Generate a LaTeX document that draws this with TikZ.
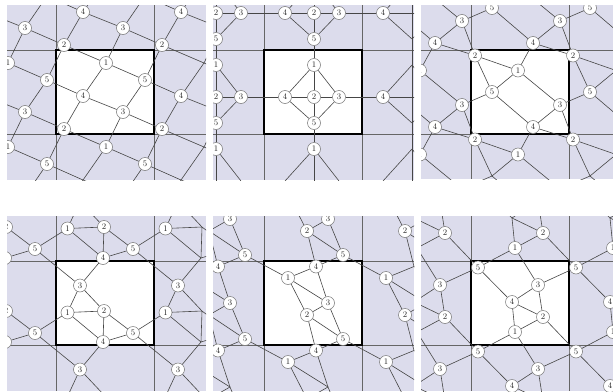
\documentclass[tikz,border=0pt]{standalone}
\usepackage{tikz}
\definecolor{bgc}{RGB}{220,220,236}
\definecolor{edgec}{RGB}{70,70,70}
\tikzset{
 vtx/.style={circle, draw=black!55, fill=white, line width=0.5pt, minimum size=13pt, inner sep=0pt, font=\fontsize{8.5}{8.5}\selectfont, text=black!85},
 edge/.style={draw=edgec, line width=0.6pt},
 gridln/.style={draw=black!60, line width=0.7pt},
 domainbox/.style={draw=black, line width=1.5pt},
}
% #1 ox, #2 oy, #3 x0, #4 x1, #5 y0, #6 y1
\newcommand\myframe[6]{%
  \pgfmathsetmacro\vxa{#3-3}\pgfmathsetmacro\vxb{#4-5}%
  \pgfmathsetmacro\vya{#5+2.5}\pgfmathsetmacro\vyb{#6-4.5}%
  \clip (#3,#5) rectangle (#4,#6);
  \fill[bgc] (#3,#5) rectangle (#4,#6);
  \fill[white] (#1,#2) rectangle ++(98,84);
  \draw[gridln] (#1,#5) -- (#1,#6);
  \draw[gridln] ({#1+98},#5) -- ({#1+98},#6);
  \draw[gridln] (#3,#2) -- (#4,#2);
  \draw[gridln] (#3,{#2+84}) -- (#4,{#2+84});
  \draw[domainbox] (#1,#2) rectangle ++(98,84);
}
% #1 prefix, #2 ox, #3 oy, #4 vertices, #5 edges
\newcommand\mytiling[5]{%
  \foreach \i in {-3,...,3}{\foreach \j in {-3,...,3}{%
    \foreach \n/\vx/\vy in {#4}{%
      \pgfmathsetmacro\px{#2+98*(\i)+\vx}%
      \pgfmathsetmacro\py{#3+84*(\j)+\vy}%
      \pgfmathtruncatemacro\vis{(\px>\vxa)*(\px<\vxb)*(\py>\vya)*(\py<\vyb)}%
      \ifnum\vis=1
        \node[vtx] (#1v\n x\i y\j) at (\px,\py) {\n};
      \else
        \coordinate (#1v\n x\i y\j) at (\px,\py);
      \fi
    }}}%
  \foreach \i in {-2,...,2}{\foreach \j in {-2,...,2}{%
    \foreach \ea/\eb/\offx/\offy in {#5}{%
      \pgfmathtruncatemacro\tgtx{\i+(\offx)}%
      \pgfmathtruncatemacro\tgty{\j+(\offy)}%
      \draw[edge] (#1v\ea x\i y\j) -- (#1v\eb x\tgtx y\tgty);
    }}}%
}
\begin{document}
\begin{tikzpicture}[x=1pt,y=-1pt]
\useasboundingbox (0,0) rectangle (613,391);
% Panel 1
\begin{scope}
\myframe{56}{50}{7}{206}{5}{180}
\mytiling{A}{56}{50}{1/50/13,5/89/30,4/27/46,3/67/62,2/8/79}
 {3/2/1/0,2/1/0/1,1/5/0/0,5/4/1/0,4/3/0/0,1/3/0/-1,3/5/0/0,5/2/1/-1,2/4/0/0,4/1/0/0}
\end{scope}
% Panel 2
\begin{scope}
\myframe{264}{50}{213}{414}{5}{180}
\mytiling{B}{264}{50}{1/50/15,2/50/47,5/50/73,4/21/47,3/75/47}
 {1/2/0/0,2/5/0/0,4/2/0/0,2/3/0/0,1/4/0/0,1/3/0/0,4/5/0/0,3/5/0/0,5/1/0/1,3/4/1/0}
\end{scope}
% Panel 3
\begin{scope}
\myframe{471}{50}{421}{621}{5}{179}
\mytiling{C}{471}{50}{2/4/5.5,1/47/20.5,5/21/42,3/89/55,4/62/77}
 {2/1/0/0,2/5/0/0,1/5/0/0,1/4/0/-1,1/3/0/0,5/4/0/0,3/4/0/0,3/5/1/0,3/2/1/1,4/2/1/1}
\end{scope}
% Panel 4
\begin{scope}
\myframe{56}{261}{7}{206}{216}{391}
\mytiling{D}{56}{261}{1/11.5/51.5,2/48/50,4/47/81,5/77/72,3/24/24.5}
 {3/4/0/-1,3/1/0/0,3/2/0/0,3/5/-1/-1,1/2/0/0,1/4/0/0,1/5/-1/0,2/4/0/0,2/5/0/0,4/5/0/0}
\end{scope}
% Panel 5
\begin{scope}
\myframe{264}{261}{213}{414}{216}{391}
\mytiling{E}{264}{261}{1/24/17,4/52/5.5,3/64/42,2/43/54,5/79/78}
 {1/4/0/0,1/3/0/0,1/2/0/0,1/5/-1/-1,2/3/0/0,2/5/0/0,2/4/0/1,3/5/0/0,3/4/0/0,4/5/0/-1}
\end{scope}
% Panel 6
\begin{scope}
\myframe{471}{261}{421}{621}{216}{391}
\mytiling{F}{471}{261}{5/7/6.5,3/67/24,4/41/41,2/72/56,1/44/71}
 {5/4/0/0,4/3/0/0,4/2/0/0,4/1/0/0,3/2/0/0,2/1/0/0,3/5/1/0,3/1/0/-1,2/5/1/1,1/5/0/1}
\end{scope}
\end{tikzpicture}
\end{document}
